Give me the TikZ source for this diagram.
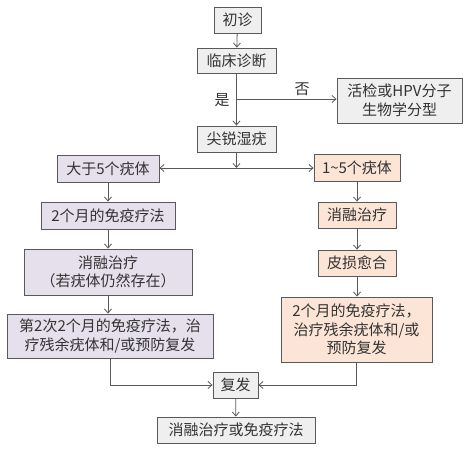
\documentclass[tikz,border=0pt]{standalone}
\usepackage{fontspec}
\setmainfont{Noto Sans CJK SC}
\usetikzlibrary{arrows.meta}
\definecolor{bordc}{HTML}{595959}
\definecolor{txtc}{HTML}{333333}
\definecolor{grayf}{HTML}{EFEFEF}
\definecolor{lavf}{HTML}{E5E0EC}
\definecolor{peachf}{HTML}{FCE5D6}
\tikzset{
  box/.style={draw=bordc, line width=0.9pt, rectangle, inner sep=0pt, align=center,
    text=txtc, font=\fontsize{15}{18.5}\selectfont, anchor=center},
  gbox/.style={box, fill=grayf},
  lbox/.style={box, fill=lavf},
  pbox/.style={box, fill=peachf},
  conn/.style={draw=bordc, line width=0.8pt, -{Straight Barb[length=4pt,width=7pt]}},
  lab/.style={text=txtc, font=\fontsize{15}{16}\selectfont, inner sep=0pt}
}
\begin{document}
\begin{tikzpicture}[x=1pt,y=-1pt]
\useasboundingbox (0,0) rectangle (470,451);
\node[gbox, minimum width=47, minimum height=26] (chu) at (237.5,20) {初诊};
\node[gbox, minimum width=79, minimum height=25] (lin) at (236.5,60.5) {临床诊断};
\node[gbox, minimum width=125, minimum height=45] (huo) at (399.5,100.5) {活检或HPV分子\\生物学分型};
\node[gbox, minimum width=79, minimum height=26] (jian) at (236.5,139) {尖锐湿疣};
\node[lbox, minimum width=102, minimum height=27] (dayu) at (108,168.5) {大于5个疣体};
\node[pbox, minimum width=86, minimum height=27] (yi) at (357,167.5) {1\textasciitilde 5个疣体};
\node[lbox, minimum width=134, minimum height=27] (l2) at (108,215.5) {2个月的免疫疗法};
\node[lbox, minimum width=168, minimum height=46] (l3) at (108,272) {消融治疗\\（若疣体仍然存在）};
\node[lbox, minimum width=206, minimum height=44] (l4) at (110,336) {第2次2个月的免疫疗法，治\\疗残余疣体和/或预防复发};
\node[pbox, minimum width=78, minimum height=26] (r2) at (357,215) {消融治疗};
\node[pbox, minimum width=78, minimum height=26] (r3) at (357,263) {皮损愈合};
\node[pbox, minimum width=151, minimum height=65] (r4) at (356.5,329.5) {2个月的免疫疗法，\\治疗残余疣体和/或\\预防复发};
\node[gbox, minimum width=45, minimum height=26] (fu) at (235.5,385) {复发};
\node[gbox, minimum width=158, minimum height=26] (fin) at (236,430) {消融治疗或免疫疗法};
\coordinate (b1) at (236.5,99);
\coordinate (b2) at (236.5,168);
\node[lab] (shi) at (222,100) {是};
\node[lab] (fou) at (302,89) {否};
\draw[conn] (chu) -- (lin);
\draw[conn] (lin) -- (jian);
\draw[conn] (b1) -- (b1 -| huo.west);
\draw[conn] (jian) -- (b2);
\draw[conn] (b2) -- (dayu.east |- b2);
\draw[conn] (b2) -- (yi.west |- b2);
\draw[conn] (dayu) -- (l2);
\draw[conn] (l2) -- (l3);
\draw[conn] (l3) -- (l4.north -| l3);
\draw[conn] (l4.south) |- (fu.west);
\draw[conn] (yi) -- (r2);
\draw[conn] (r2) -- (r3);
\draw[conn] (r3) -- (r4.north -| r3);
\draw[conn] (r4.south) |- (fu.east);
\draw[conn] (fu) -- (fin);
\end{tikzpicture}
\end{document}
